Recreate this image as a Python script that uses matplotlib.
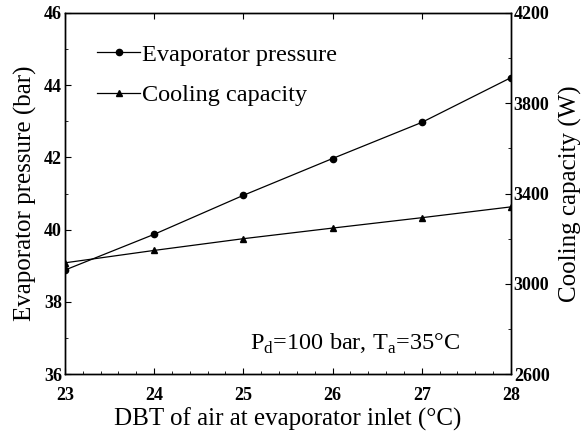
import matplotlib
matplotlib.use("Agg")
import matplotlib.pyplot as plt
from matplotlib.ticker import MultipleLocator, FixedLocator
from matplotlib.lines import Line2D

plt.rcParams['font.family'] = ['Liberation Serif', 'DejaVu Serif']
plt.rcParams['mathtext.fontset'] = 'custom'
plt.rcParams['mathtext.rm'] = 'Liberation Serif'

dbt = [23, 24, 25, 26, 27, 28]
evap_pressure = [38.88, 39.87, 40.95, 41.97, 42.97, 44.21]
cooling_capacity = [3093, 3148, 3200, 3247, 3293, 3341]
cap_ticks = [2600, 3000, 3400, 3800, 4200]

fig = plt.figure(figsize=(5.84, 4.33), dpi=100)
ax = fig.add_axes([0.111, 0.136, 0.764, 0.834])
ax2 = ax.twinx()

ax.plot(dbt, evap_pressure, color='black', lw=0.9, marker='o', ms=4.5)
ax2.plot(dbt, cooling_capacity, color='black', lw=0.9, marker='^', ms=5)

ax.set_xlim(23, 28)
ax.set_ylim(36, 46)
ax2.set_ylim(2600, 4200)

ax.xaxis.set_major_locator(MultipleLocator(1))
ax.xaxis.set_minor_locator(MultipleLocator(0.2))
ax.yaxis.set_major_locator(MultipleLocator(2))
ax.yaxis.set_minor_locator(MultipleLocator(1))
ax2.yaxis.set_major_locator(FixedLocator(cap_ticks))
ax2.yaxis.set_minor_locator(MultipleLocator(200))

ax.tick_params(axis='x', which='both', direction='in', top=True, labelsize=13, pad=9)
ax.tick_params(axis='x', which='minor', top=False, length=2)
ax.tick_params(axis='x', which='major', length=4)
ax.tick_params(axis='y', which='both', direction='in', labelsize=13, pad=2)
ax.tick_params(axis='y', which='major', length=4)
ax.tick_params(axis='y', which='minor', length=2)
ax2.tick_params(axis='y', which='both', direction='in', labelsize=13, pad=2)
ax2.tick_params(axis='y', which='major', length=4)
ax2.tick_params(axis='y', which='minor', length=2)

for lab in ax.get_xticklabels() + ax.get_yticklabels() + ax2.get_yticklabels():
    lab.set_fontweight('bold')

ax.set_xlabel('DBT of air at evaporator inlet (°C)', fontsize=18, labelpad=3)
ax.set_ylabel('Evaporator pressure (bar)', fontsize=18, labelpad=5)
ax2.set_ylabel('Cooling capacity (W)', fontsize=18, labelpad=7)

handles = [Line2D([], [], color='black', lw=0.9, marker='o', ms=4.5),
           Line2D([], [], color='black', lw=0.9, marker='^', ms=5)]
ax.legend(handles, ['Evaporator pressure', 'Cooling capacity'], loc='upper left',
          bbox_to_anchor=(0.04, 0.955), frameon=False, fontsize=17.5,
          handlelength=1.75, handletextpad=0.1, labelspacing=0.75,
          borderaxespad=0.2)

ax.text(27.43, 36.66, r'P$_\mathrm{d}$=100 bar, T$_\mathrm{a}$=35°C', ha='right',
        va='baseline', fontsize=17.5)

for a in (ax, ax2):
    for s in a.spines.values():
        s.set_linewidth(1.0)

fig.savefig('out.png', dpi=100)
